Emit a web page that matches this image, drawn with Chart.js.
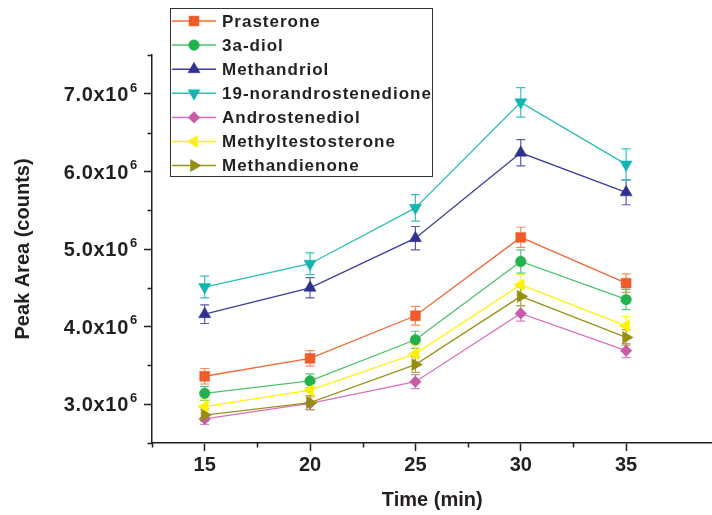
<!DOCTYPE html>
<html>
<head>
<meta charset="utf-8">
<script src="https://cdn.jsdelivr.net/npm/chart.js@4.4.0/dist/chart.umd.min.js"></script>
<style>
html,body{margin:0;padding:0;background:#ffffff;overflow:hidden;}
#wrap{width:712px;height:515px;position:relative;overflow:hidden;}
#c{display:block;}
</style>
</head>
<body>
<div id="wrap"><canvas id="c" width="720" height="515"></canvas></div>
<script>
// ---- data (peak area in counts) ----
const times = [15, 20, 25, 30, 35];
const seriesNames = ['Prasterone', '3a-diol', 'Methandriol', '19-norandrostenedione', 'Androstenediol', 'Methyltestosterone', 'Methandienone'];

const prasterone      = [3.36e6, 3.59e6, 4.14e6, 5.15e6, 4.56e6];
const diol3a          = [3.14e6, 3.30e6, 3.83e6, 4.84e6, 4.35e6];
const methandriol     = [4.16e6, 4.50e6, 5.14e6, 6.24e6, 5.73e6];
const norandro19      = [4.51e6, 4.81e6, 5.53e6, 6.89e6, 6.09e6];
const androstenediol  = [2.81e6, 3.01e6, 3.29e6, 4.17e6, 3.69e6];
const methyltest      = [2.97e6, 3.18e6, 3.65e6, 4.54e6, 4.01e6];
const methandienone   = [2.86e6, 3.02e6, 3.51e6, 4.39e6, 3.86e6];

const prasteroneErr     = [0.10e6, 0.10e6, 0.12e6, 0.13e6, 0.12e6];
const diol3aErr         = [0.09e6, 0.09e6, 0.11e6, 0.15e6, 0.13e6];
const methandriolErr    = [0.12e6, 0.13e6, 0.15e6, 0.17e6, 0.16e6];
const norandro19Err     = [0.14e6, 0.14e6, 0.17e6, 0.19e6, 0.20e6];
const androstenediolErr = [0.07e6, 0.08e6, 0.09e6, 0.10e6, 0.09e6];
const methyltestErr     = [0.09e6, 0.09e6, 0.11e6, 0.13e6, 0.12e6];
const methandienoneErr  = [0.08e6, 0.09e6, 0.10e6, 0.12e6, 0.10e6];

const xTickValues = [15, 20, 25, 30, 35];
const xMinorValues = [12.5, 17.5, 22.5, 27.5, 32.5];
const yTickValues = [3e6, 4e6, 5e6, 6e6, 7e6];
const yMinorValues = [2.5e6, 3.5e6, 4.5e6, 5.5e6, 6.5e6, 7.5e6];

// ---- styling ----
const seriesValues = [prasterone, diol3a, methandriol, norandro19, androstenediol, methyltest, methandienone];
const seriesErrs = [prasteroneErr, diol3aErr, methandriolErr, norandro19Err, androstenediolErr, methyltestErr, methandienoneErr];
const markerColors = ['#F15A29', '#22B14C', '#2E3192', '#14B5B0', '#C85BA6', '#FFF200', '#948F12'];
const lineColors   = ['#F26B3A', '#4CC26E', '#3B3F9A', '#2DBDB8', '#D970BB', '#FFF200', '#9A951E'];
const errColors    = ['#F58A64', '#5CC67D', '#5A5DA8', '#3CC0BB', '#D985C2', '#FFF23A', '#ABA63E'];
const styles = [
  {pointStyle: 'rect', r: 7, rot: 0},
  {pointStyle: 'circle', r: 5.3, rot: 0},
  {pointStyle: 'triangle', r: 7, rot: 0},
  {pointStyle: 'triangle', r: 7, rot: 180},
  {pointStyle: 'rectRot', r: 5.8, rot: 0},
  {pointStyle: 'triangle', r: 7, rot: 270},
  {pointStyle: 'triangle', r: 7, rot: 90}
];
const AX = '#231F20';
const FONT = '"Liberation Sans", Arial, Helvetica, sans-serif';

const datasets = seriesNames.map((name, i) => ({
  label: name,
  data: times.map((t, j) => ({x: t, y: seriesValues[i][j]})),
  borderColor: lineColors[i],
  backgroundColor: markerColors[i],
  pointBackgroundColor: markerColors[i],
  pointBorderColor: markerColors[i],
  pointBorderWidth: 0.5,
  pointStyle: styles[i].pointStyle,
  pointRadius: styles[i].r,
  pointRotation: styles[i].rot,
  borderWidth: 1.3,
  tension: 0,
  fill: false,
  order: -i,
  errColor: errColors[i],
  errs: seriesErrs[i]
}));

const errorBars = {
  id: 'errorBars',
  beforeDatasetsDraw(chart) {
    const ctx = chart.ctx, xs = chart.scales.x, ys = chart.scales.y;
    ctx.save();
    chart.data.datasets.forEach(ds => {
      ctx.strokeStyle = ds.errColor;
      ctx.lineWidth = 1.2;
      ds.data.forEach((p, j) => {
        const e = ds.errs[j];
        const x = xs.getPixelForValue(p.x);
        const yh = ys.getPixelForValue(p.y + e);
        const yl = ys.getPixelForValue(p.y - e);
        ctx.beginPath();
        ctx.moveTo(x, yl); ctx.lineTo(x, yh);
        ctx.moveTo(x - 4.5, yh); ctx.lineTo(x + 4.5, yh);
        ctx.moveTo(x - 4.5, yl); ctx.lineTo(x + 4.5, yl);
        ctx.stroke();
      });
    });
    ctx.restore();
  }
};

const decorations = {
  id: 'decorations',
  afterDraw(chart) {
    const ctx = chart.ctx, xs = chart.scales.x, ys = chart.scales.y;
    const area = chart.chartArea;
    ctx.save();
    // minor ticks
    ctx.strokeStyle = AX;
    ctx.lineWidth = 1.5;
    ctx.beginPath();
    yMinorValues.forEach(v => {
      const y = Math.round(ys.getPixelForValue(v)) + 0.5;
      ctx.moveTo(area.left - 4.5, y); ctx.lineTo(area.left, y);
    });
    xMinorValues.forEach(v => {
      const x = Math.round(xs.getPixelForValue(v)) + 0.5;
      ctx.moveTo(x, area.bottom); ctx.lineTo(x, area.bottom + 4.5);
    });
    ctx.stroke();

    // y tick labels with superscript exponent
    ctx.fillStyle = AX;
    try { ctx.letterSpacing = '0.7px'; } catch (e) {}
    yTickValues.forEach(v => {
      const y = ys.getPixelForValue(v);
      ctx.font = 'bold 20px ' + FONT;
      ctx.textAlign = 'right';
      ctx.textBaseline = 'alphabetic';
      ctx.fillText((v / 1e6).toFixed(1) + 'x10', 129, y + 7.2);
      ctx.font = 'bold 13px ' + FONT;
      ctx.textAlign = 'left';
      ctx.fillText('6', 130, y - 2.2);
    });

    // legend box
    ctx.letterSpacing = '1px';
    ctx.strokeStyle = '#333333';
    ctx.lineWidth = 1;
    ctx.strokeRect(170.5, 8.5, 262, 168);
    chart.data.datasets.forEach((ds, i) => {
      const y = 21 + i * 24.1;
      ctx.strokeStyle = ds.borderColor;
      ctx.lineWidth = 1.5;
      ctx.beginPath();
      ctx.moveTo(172, y); ctx.lineTo(216, y);
      ctx.stroke();
      ctx.fillStyle = ds.pointBackgroundColor;
      ctx.strokeStyle = ds.pointBorderColor;
      ctx.lineWidth = 0.5;
      Chart.helpers.drawPoint(ctx, {pointStyle: ds.pointStyle, radius: ds.pointRadius, rotation: ds.pointRotation, borderWidth: 0.5}, 194, y);
      ctx.fillStyle = AX;
      ctx.font = 'bold 17px ' + FONT;
      ctx.textAlign = 'left';
      ctx.textBaseline = 'middle';
      ctx.fillText(ds.label, 222, y + 1);
    });
    ctx.restore();
  }
};

new Chart(document.getElementById('c'), {
  type: 'line',
  data: {datasets},
  options: {
    responsive: false,
    animation: false,
    devicePixelRatio: 1,
    layout: {padding: {top: 55, left: 0, right: 0, bottom: 0}},
    plugins: {legend: {display: false}, tooltip: {enabled: false}},
    scales: {
      x: {
        type: 'linear',
        min: 12.5,
        max: 39.1,
        afterBuildTicks: s => { s.ticks = xTickValues.map(v => ({value: v})); },
        afterFit: s => { s.height = 72; },
        ticks: {
          color: AX,
          font: {family: FONT, size: 20, weight: 'bold'},
          padding: 2,
          maxRotation: 0,
          autoSkip: false,
          callback: v => String(v)
        },
        grid: {drawOnChartArea: false, drawTicks: true, tickLength: 8, tickWidth: 1.5, tickColor: AX},
        border: {display: true, color: AX, width: 1.5},
        title: {display: true, text: 'Time (min)', color: AX, font: {family: FONT, size: 20, weight: 'bold'}, padding: {top: 0, bottom: 3}}
      },
      y: {
        type: 'linear',
        min: 2.5e6,
        max: 7.5e6,
        afterBuildTicks: s => { s.ticks = yTickValues.map(v => ({value: v})); },
        afterFit: s => { s.width = 152; },
        ticks: {
          color: 'rgba(0,0,0,0)',
          font: {family: FONT, size: 20, weight: 'bold'},
          callback: v => (v / 1e6).toFixed(1) + 'x10'
        },
        grid: {drawOnChartArea: false, drawTicks: true, tickLength: 8, tickWidth: 1.5, tickColor: AX},
        border: {display: true, color: AX, width: 1.5},
        title: {display: true, text: 'Peak Area (counts)', color: AX, font: {family: FONT, size: 20, weight: 'bold'}, padding: {top: 11, bottom: 0}}
      }
    }
  },
  plugins: [errorBars, decorations]
});
</script>
</body>
</html>
